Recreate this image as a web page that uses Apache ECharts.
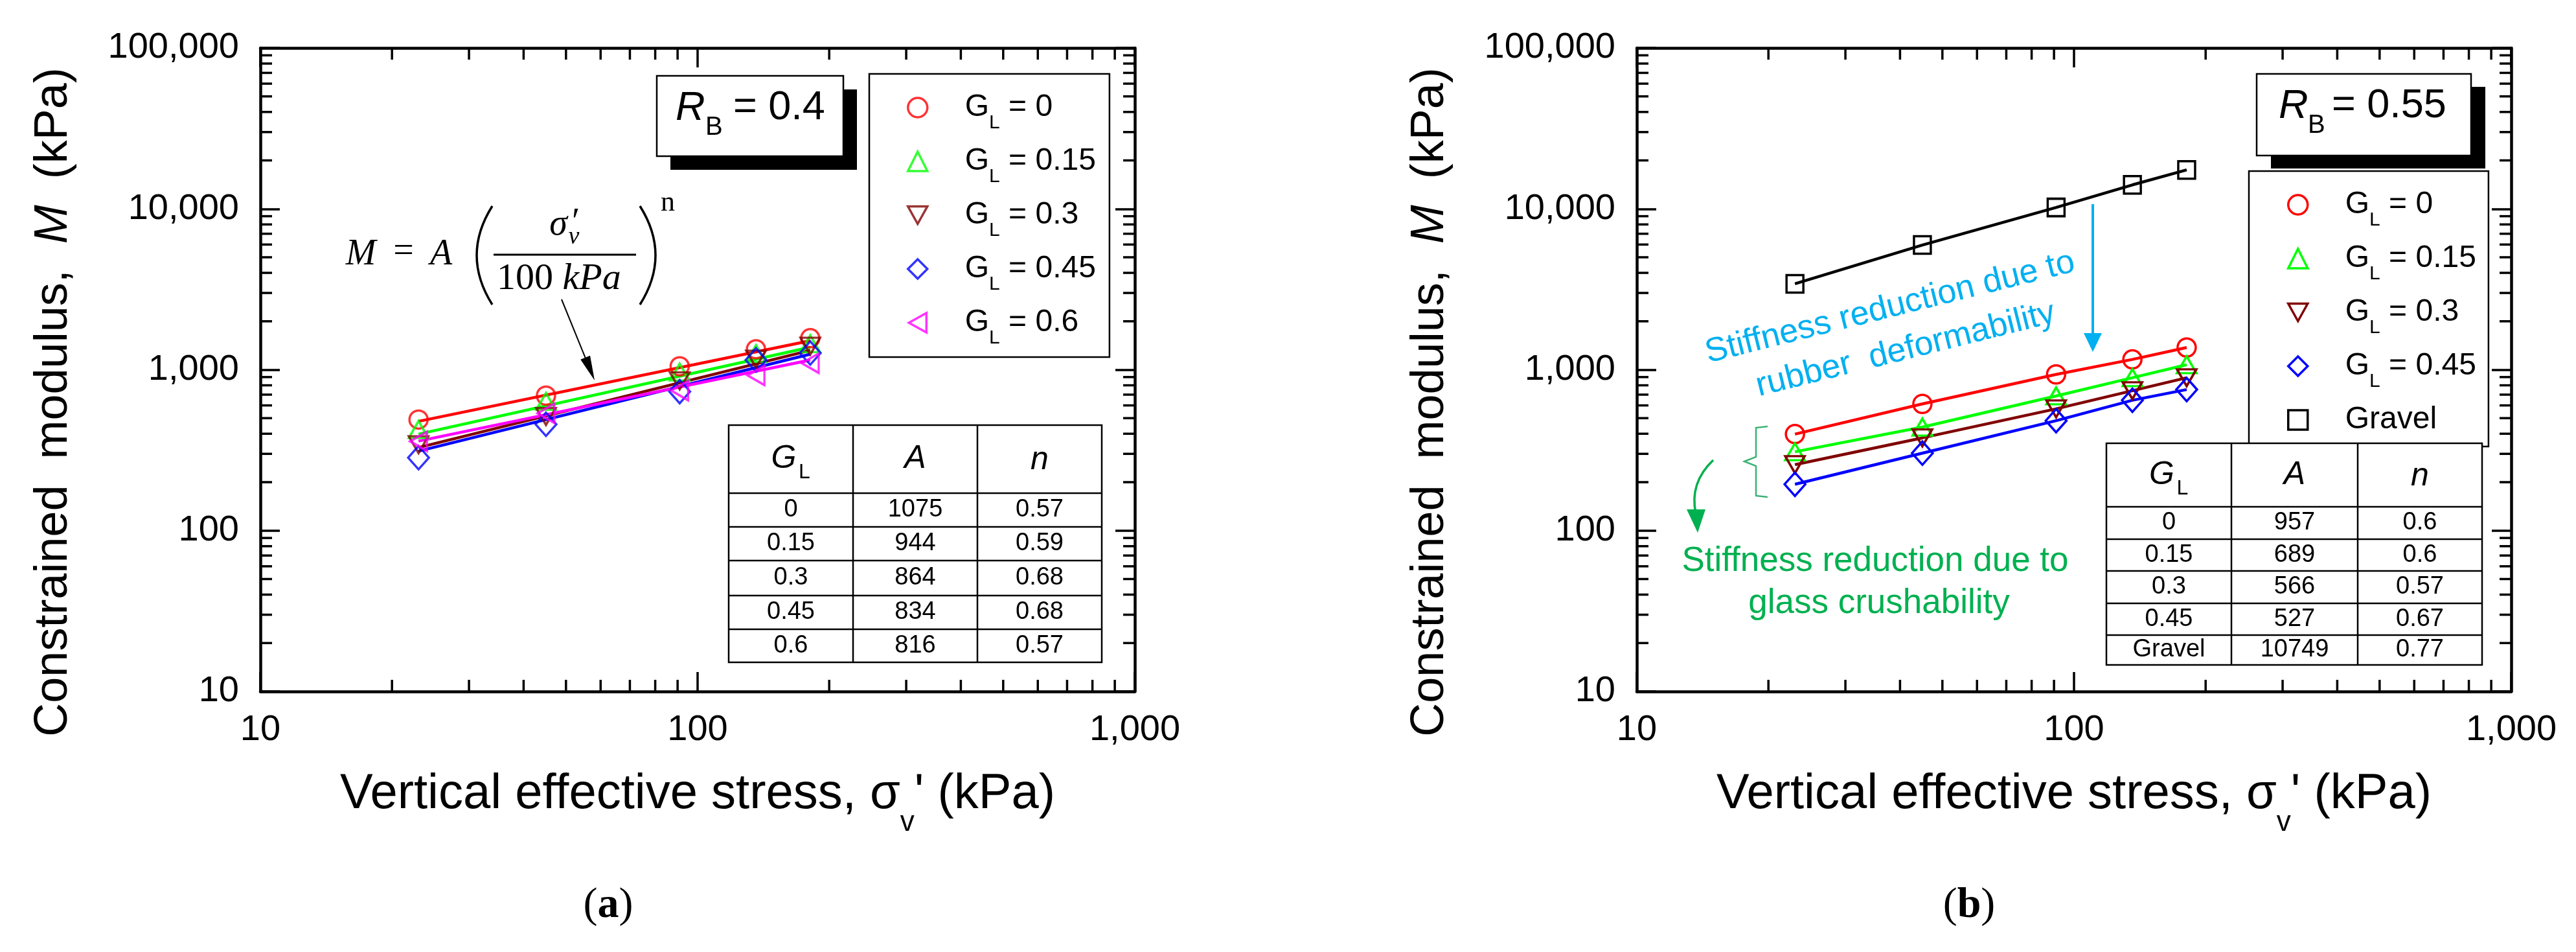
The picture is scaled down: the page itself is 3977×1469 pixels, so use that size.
<!DOCTYPE html>
<html><head><meta charset="utf-8">
<script src="https://cdn.jsdelivr.net/npm/echarts@6/dist/echarts.min.js"></script>
<style>html,body{margin:0;padding:0;background:#fff;}#c{width:3977px;height:1469px;}</style>
</head><body><div id="c"></div>
<script>
// ---------------- data ----------------
const stress = [23, 45, 91, 136, 181];               // vertical effective stress (kPa)
// (a) R_B = 0.4 : measured constrained modulus (kPa)
const a_GL0   = [490, 690, 1050, 1340, 1570];
const a_GL015 = [425, 635, 966, 1260, 1450];
const a_GL03  = [342, 512, 853, 1164, 1400];
const a_GL045 = [284, 458, 731, 1150, 1270];
const a_GL06  = [359, 536, 742, 922, 1098];
// (a) fitted power-law lines, read at their two ends
const a_fitX      = [23, 181];
const a_fit_GL0   = [478, 1515];
const a_fit_GL015 = [398, 1380];
const a_fit_GL03  = [328, 1320];
const a_fit_GL045 = [312, 1250];
const a_fit_GL06  = [360, 1150];
// (b) R_B = 0.55
const b_GL0    = [398, 613, 935, 1159, 1374];
const b_GL015  = [309, 440, 687, 892, 1074];
const b_GL03   = [257, 377, 571, 741, 892];
const b_GL045  = [194, 303, 482, 646, 753];
const b_Gravel = [3420, 5960, 10200, 14090, 17460];
// tables
const tableA_GL = ['0', '0.15', '0.3', '0.45', '0.6'];
const tableA_A  = ['1075', '944', '864', '834', '816'];
const tableA_n  = ['0.57', '0.59', '0.68', '0.68', '0.57'];
const tableB_GL = ['0', '0.15', '0.3', '0.45', 'Gravel'];
const tableB_A  = ['957', '689', '566', '527', '10749'];
const tableB_n  = ['0.6', '0.6', '0.57', '0.67', '0.77'];
// legend labels
const legendA = ['0', '0.15', '0.3', '0.45', '0.6'];
const legendB = ['0', '0.15', '0.3', '0.45', 'Gravel'];
// minor tick values
const xMinor = [20, 30, 40, 50, 60, 70, 80, 90, 200, 300, 400, 500, 600, 700, 800, 900];
const yMinor = [20, 30, 40, 50, 60, 70, 80, 90, 200, 300, 400, 500, 600, 700, 800, 900,
  2000, 3000, 4000, 5000, 6000, 7000, 8000, 9000, 20000, 30000, 40000, 50000, 60000, 70000, 80000, 90000];

// ---------------- styles ----------------
const FONT = '"Liberation Sans", Arial, sans-serif';
const SERIF = '"Liberation Serif", "Times New Roman", serif';
const RED = '#FF0000', GREEN = '#00FF00', BROWN = '#800000', BLUE = '#0000FF', MAG = '#FF00FF', BLK = '#000000';
const CLEAR = 'rgba(0,0,0,0)';
const DOWN = 'path://M0,0L20,0L10,18Z';
const LEFT = 'path://M18,0L18,20L0,10Z';
const fmt = v => String(Math.round(v)).replace(/\B(?=(\d{3})+(?!\d))/g, ',');

const mctx = document.createElement('canvas').getContext('2d');
function textW(text, size, family, fstyle) {
  mctx.font = (fstyle || 'normal') + ' ' + size + 'px ' + family;
  return mctx.measureText(text).width;
}

const chart = echarts.init(document.getElementById('c'), null, {renderer: 'canvas', width: 3977, height: 1469});

function xAxes(g) {
  const common = {type: 'log', logBase: 10, gridIndex: g, min: 10, max: 1000,
    axisLine: {show: true, onZero: false, lineStyle: {color: BLK, width: 4.5}},
    axisTick: {show: true, inside: true, length: 30, lineStyle: {color: BLK, width: 3.5}},
    splitLine: {show: false}, minorTick: {show: false}, minorSplitLine: {show: false}};
  return [
    Object.assign({}, common, {position: 'bottom',
      axisLabel: {show: true, color: BLK, fontSize: 56, fontFamily: FONT, margin: 32, formatter: fmt},
      name: "{a|Vertical effective stress, σ}{s|v}{a|' (kPa)}", nameLocation: 'middle', nameGap: 110,
      nameTextStyle: {color: BLK, fontSize: 76, fontFamily: FONT, rich: {
        a: {fontSize: 76, lineHeight: 76, fontFamily: FONT, color: BLK, verticalAlign: 'middle'},
        s: {fontSize: 44, lineHeight: 44, fontFamily: FONT, color: BLK, verticalAlign: 'middle', padding: [88, 0, 0, 0]}}}}),
    Object.assign({}, common, {position: 'top', axisLabel: {show: false}})
  ];
}
function yAxes(g) {
  const common = {type: 'log', logBase: 10, gridIndex: g, min: 10, max: 100000,
    axisLine: {show: true, onZero: false, lineStyle: {color: BLK, width: 4.5}},
    axisTick: {show: true, inside: true, length: 30, lineStyle: {color: BLK, width: 3.5}},
    splitLine: {show: false}, minorTick: {show: false}, minorSplitLine: {show: false}};
  return [
    Object.assign({}, common, {position: 'left',
      axisLabel: {show: true, color: BLK, fontSize: 56, fontFamily: FONT, margin: 33, formatter: fmt},
      name: '{a|Constrained  modulus,  }{i|M}{a|  (kPa)}', nameLocation: 'middle', nameGap: 283,
      nameTextStyle: {color: BLK, fontSize: 72, fontFamily: FONT, padding: [0, 100, 0, 0], rich: {
        a: {fontSize: 72, fontFamily: FONT, color: BLK},
        i: {fontSize: 72, fontFamily: FONT, color: BLK, fontStyle: 'italic'}}}}),
    Object.assign({}, common, {position: 'right', axisLabel: {show: false}})
  ];
}
function minorTicks(g, dir, vals) {
  return {type: 'custom', xAxisIndex: g * 2, yAxisIndex: g * 2, silent: true, clip: false, z: 10,
    data: vals.map(v => dir === 'x' ? [v, 10] : [10, v]),
    renderItem(params, api) {
      const cs = params.coordSys;
      const p = api.coord([api.value(0), api.value(1)]);
      const st = {stroke: BLK, lineWidth: 3.5};
      const L = 18;
      if (dir === 'x') return {type: 'group', children: [
        {type: 'line', shape: {x1: p[0], y1: cs.y + cs.height, x2: p[0], y2: cs.y + cs.height - L}, style: st},
        {type: 'line', shape: {x1: p[0], y1: cs.y, x2: p[0], y2: cs.y + L}, style: st}]};
      return {type: 'group', children: [
        {type: 'line', shape: {x1: cs.x, y1: p[1], x2: cs.x + L, y2: p[1]}, style: st},
        {type: 'line', shape: {x1: cs.x + cs.width, y1: p[1], x2: cs.x + cs.width - L, y2: p[1]}, style: st}]};
    }};
}
const pts = arr => stress.map((x, i) => [x, arr[i]]);
const fitPts = arr => a_fitX.map((x, i) => [x, arr[i]]);

function fitLine(arr, color) {
  return {type: 'line', xAxisIndex: 0, yAxisIndex: 0, data: fitPts(arr), symbol: 'none', silent: true, z: 3,
    lineStyle: {color, width: 4.5}};
}
function scat(name, arr, color, symbol, size) {
  return {type: 'scatter', name, xAxisIndex: 0, yAxisIndex: 0, data: pts(arr), symbol, symbolSize: size, z: 4,
    itemStyle: {color: CLEAR, borderColor: color, borderWidth: 3.5}};
}
function lineB(name, arr, color, symbol, size) {
  return {type: 'line', name, xAxisIndex: 2, yAxisIndex: 2, data: pts(arr), symbol, symbolSize: size, showSymbol: true, z: 4,
    itemStyle: {color: CLEAR, borderColor: color, borderWidth: 3.5},
    lineStyle: {color, width: 4.5}};
}
const legRich = {
  g: {fontSize: 48, fontFamily: FONT, color: BLK, lineHeight: 48, verticalAlign: 'middle', padding: [0, 0, 0, 53]},
  l: {fontSize: 30, fontFamily: FONT, color: BLK, lineHeight: 28, verticalAlign: 'middle', padding: [48, 0, 0, 0]},
  t: {fontSize: 48, fontFamily: FONT, color: BLK, lineHeight: 48, verticalAlign: 'middle'}
};
function legItem(name, icon, color) {
  return {name, icon, itemStyle: {color: CLEAR, borderColor: color, borderWidth: 3.5}};
}

// ---------------- graphics ----------------
function T(x, y, text, opt) {
  const s = Object.assign({text, fill: BLK, fontFamily: FONT, fontSize: 40, align: 'center', verticalAlign: 'middle'}, opt || {});
  s.textAlign = s.align; s.textVerticalAlign = s.verticalAlign;
  return {type: 'text', x, y, z: 60, silent: true, style: s};
}
// centred text placed by measured width (left anchored)
function TC(cx, y, text, opt) {
  const o = Object.assign({fontSize: 40, fontFamily: FONT, fontStyle: 'normal'}, opt || {});
  const w = textW(text, o.fontSize, o.fontFamily, o.fontStyle);
  o.align = 'left';
  return T(cx - w / 2, y, text, o);
}
function L(x1, y1, x2, y2, color, w, z) {
  return {type: 'line', z: z || 55, silent: true, shape: {x1, y1, x2, y2}, style: {stroke: color, lineWidth: w}};
}
function table(xs, ys, gl, A, n) {
  const els = [];
  els.push({type: 'rect', z: 50, silent: true, shape: {x: xs[0], y: ys[0], width: xs[3] - xs[0], height: ys[6] - ys[0]},
    style: {fill: '#fff', stroke: BLK, lineWidth: 2.5}});
  els.push(L(xs[1], ys[0], xs[1], ys[6], BLK, 2.5));
  els.push(L(xs[2], ys[0], xs[2], ys[6], BLK, 2.5));
  for (let r = 1; r <= 5; r++) els.push(L(xs[0], ys[r], xs[3], ys[r], BLK, 2.5));
  const cx = [0, 1, 2].map(i => (xs[i] + xs[i + 1]) / 2);
  const hy = (ys[0] + ys[1]) / 2;
  els.push(TC(cx[0] - 11, hy, 'G', {fontSize: 50, fontStyle: 'italic'}));
  els.push(T(cx[0] + 12, hy + 21, 'L', {fontSize: 32, align: 'left'}));
  els.push(TC(cx[1], hy, 'A', {fontSize: 50, fontStyle: 'italic'}));
  els.push(TC(cx[2], hy + 2, 'n', {fontSize: 50, fontStyle: 'italic'}));
  for (let r = 0; r < 5; r++) {
    const y = (ys[r + 1] + ys[r + 2]) / 2;
    els.push(TC(cx[0], y, gl[r], {fontSize: 38}));
    els.push(TC(cx[1], y, A[r], {fontSize: 38}));
    els.push(TC(cx[2], y, n[r], {fontSize: 38}));
  }
  return els;
}
function rbBox(bx, by, bw, bh, sdx, sdy, rx, bxs, tx, cy, val) {
  return [
    {type: 'rect', z: 48, silent: true, shape: {x: bx + sdx, y: by + sdy, width: bw, height: bh}, style: {fill: BLK}},
    {type: 'rect', z: 49, silent: true, shape: {x: bx, y: by, width: bw, height: bh}, style: {fill: '#fff', stroke: BLK, lineWidth: 2.5}},
    T(rx, cy, 'R', {fontSize: 63, fontStyle: 'italic', align: 'left'}),
    T(bxs, cy + 30, 'B', {fontSize: 40, align: 'left'}),
    T(tx, cy, '= ' + val, {fontSize: 63, align: 'left'})
  ];
}
const BLUE_T = '#00B0F0', GREEN_T = '#00B050';
const rot = 14 * Math.PI / 180;
const graphics = [].concat(
  table([1125, 1317, 1509, 1701], [656, 761, 813, 865, 919, 971, 1022], tableA_GL, tableA_A, tableA_n),
  table([3252, 3445, 3640, 3832], [684, 782, 832, 881, 931, 980, 1026], tableB_GL, tableB_A, tableB_n),
  rbBox(1014, 117, 288, 124, 21, 21, 1043, 1089, 1132, 167, '0.4'),
  rbBox(3484, 114, 331, 126, 22, 20, 3518, 3563, 3600, 164, '0.55'),
  [
    // equation M = A (σ'v / 100 kPa)^n
    T(557, 393, 'M', {fontFamily: SERIF, fontSize: 56, fontStyle: 'italic'}),
    T(623, 389, '=', {fontFamily: SERIF, fontSize: 56}),
    T(681, 393, 'A', {fontFamily: SERIF, fontSize: 56, fontStyle: 'italic'}),
    {type: 'bezierCurve', z: 60, silent: true, shape: {x1: 760, y1: 318, x2: 760, y2: 470, cpx1: 712, cpy1: 394}, style: {stroke: BLK, lineWidth: 3.5, fill: 'none'}},
    {type: 'bezierCurve', z: 60, silent: true, shape: {x1: 988, y1: 318, x2: 988, y2: 470, cpx1: 1036, cpy1: 394}, style: {stroke: BLK, lineWidth: 3.5, fill: 'none'}},
    L(762, 393, 982, 393, BLK, 3, 60),
    T(862, 347, 'σ', {fontFamily: SERIF, fontSize: 56, fontStyle: 'italic'}),
    T(889, 345, '′', {fontFamily: SERIF, fontSize: 56}),
    T(886, 366, 'v', {fontFamily: SERIF, fontSize: 38, fontStyle: 'italic'}),
    T(767, 431, '{u|100 }{i|kPa}', {align: 'left', rich: {
      u: {fontFamily: SERIF, fontSize: 58, fill: BLK, color: BLK},
      i: {fontFamily: SERIF, fontSize: 58, fontStyle: 'italic', fill: BLK, color: BLK}}}),
    T(1031, 313, 'n', {fontFamily: SERIF, fontSize: 44}),
    L(867, 462, 903.6, 551.8, BLK, 2, 60),
    {type: 'polygon', z: 60, silent: true, shape: {points: [[918, 587], [911, 548.8], [896.2, 554.8]]}, style: {fill: BLK}},
    // (b) annotations
    {type: 'text', x: 2918, y: 475, rotation: rot, z: 60, silent: true, style: {text: 'Stiffness reduction due to', fill: BLUE_T, fontFamily: FONT, fontSize: 52, align: 'center', verticalAlign: 'middle', textAlign: 'center', textVerticalAlign: 'middle'}},
    {type: 'text', x: 2942, y: 540, rotation: rot, z: 60, silent: true, style: {text: 'rubber  deformability', fill: BLUE_T, fontFamily: FONT, fontSize: 52, align: 'center', verticalAlign: 'middle', textAlign: 'center', textVerticalAlign: 'middle'}},
    L(3231, 315, 3231, 518, BLUE_T, 4, 60),
    {type: 'polygon', z: 60, silent: true, shape: {points: [[3217, 514], [3245, 514], [3231, 543]]}, style: {fill: BLUE_T}},
    {type: 'polyline', z: 60, silent: true, shape: {points: [[2729, 658], [2711, 660], [2711, 705], [2693, 712], [2711, 719], [2711, 765], [2729, 767]]}, style: {stroke: '#3BB273', lineWidth: 2.5, fill: 'none'}},
    {type: 'bezierCurve', z: 60, silent: true, shape: {x1: 2645, y1: 710, x2: 2618, y2: 792, cpx1: 2608, cpy1: 745}, style: {stroke: GREEN_T, lineWidth: 3.5, fill: 'none'}},
    {type: 'polygon', z: 60, silent: true, shape: {points: [[2604, 786], [2633, 786], [2621, 822]]}, style: {fill: GREEN_T}},
    T(2895, 866, 'Stiffness reduction due to', {fontSize: 53, fill: GREEN_T}),
    T(2901, 931, 'glass crushability', {fontSize: 53, fill: GREEN_T}),
    // panel labels
    T(939, 1398, '{p|(}{b|a}{p|)}', {rich: {
      p: {fontFamily: SERIF, fontSize: 66, fill: BLK, color: BLK},
      b: {fontFamily: SERIF, fontSize: 66, fontWeight: 'bold', fill: BLK, color: BLK}}}),
    T(3040, 1398, '{p|(}{b|b}{p|)}', {rich: {
      p: {fontFamily: SERIF, fontSize: 66, fill: BLK, color: BLK},
      b: {fontFamily: SERIF, fontSize: 66, fontWeight: 'bold', fill: BLK, color: BLK}}})
  ]
);

const option = {
  animation: false,
  backgroundColor: '#fff',
  grid: [
    {left: 402, top: 74, width: 1350, height: 993, containLabel: false},
    {left: 2527, top: 74, width: 1350, height: 993, containLabel: false}
  ],
  xAxis: xAxes(0).concat(xAxes(1)),
  yAxis: yAxes(0).concat(yAxes(1)),
  legend: [
    {orient: 'vertical', left: 1342, top: 114, padding: [13, 21, 14, 58], itemWidth: 30, itemHeight: 30, itemGap: 5,
      borderColor: BLK, borderWidth: 2.5, backgroundColor: '#fff', selectedMode: false, z: 50,
      data: [legItem('a0', 'circle', RED), legItem('a15', 'triangle', GREEN), legItem('a30', DOWN, BROWN),
             legItem('a45', 'diamond', BLUE), legItem('a60', LEFT, MAG)],
      formatter: n => {
        const i = ['a0', 'a15', 'a30', 'a45', 'a60'].indexOf(n);
        return '{g|G}{l|L}{t| = ' + legendA[i] + '}';
      },
      textStyle: {rich: legRich}},
    {orient: 'vertical', left: 3472, top: 264, padding: [13, 19, 2, 59], itemWidth: 30, itemHeight: 30, itemGap: 5,
      borderColor: BLK, borderWidth: 2.5, backgroundColor: '#fff', selectedMode: false, z: 50,
      data: [legItem('b0', 'circle', RED), legItem('b15', 'triangle', GREEN), legItem('b30', DOWN, BROWN),
             legItem('b45', 'diamond', BLUE), legItem('bGr', 'rect', BLK)],
      formatter: n => {
        const i = ['b0', 'b15', 'b30', 'b45', 'bGr'].indexOf(n);
        if (legendB[i] === 'Gravel') return '{g|Gravel}{l| }';
        return '{g|G}{l|L}{t| = ' + legendB[i] + '}';
      },
      textStyle: {rich: legRich}}
  ],
  series: [
    fitLine(a_fit_GL0, RED), fitLine(a_fit_GL015, GREEN), fitLine(a_fit_GL03, BROWN),
    fitLine(a_fit_GL045, BLUE), fitLine(a_fit_GL06, MAG),
    scat('a0', a_GL0, RED, 'circle', 28),
    scat('a15', a_GL015, GREEN, 'triangle', [30, 26]),
    scat('a30', a_GL03, BROWN, DOWN, [30, 26]),
    scat('a45', a_GL045, BLUE, 'diamond', [32, 36]),
    scat('a60', a_GL06, MAG, LEFT, [26, 30]),
    lineB('bGr', b_Gravel, BLK, 'rect', [26, 27]),
    lineB('b0', b_GL0, RED, 'circle', 28),
    lineB('b15', b_GL015, GREEN, 'triangle', [30, 26]),
    lineB('b30', b_GL03, BROWN, DOWN, [30, 26]),
    lineB('b45', b_GL045, BLUE, 'diamond', [32, 36]),
    minorTicks(0, 'x', xMinor), minorTicks(0, 'y', yMinor),
    minorTicks(1, 'x', xMinor), minorTicks(1, 'y', yMinor)
  ],
  graphic: graphics
};
chart.setOption(option);
</script>
</body></html>
